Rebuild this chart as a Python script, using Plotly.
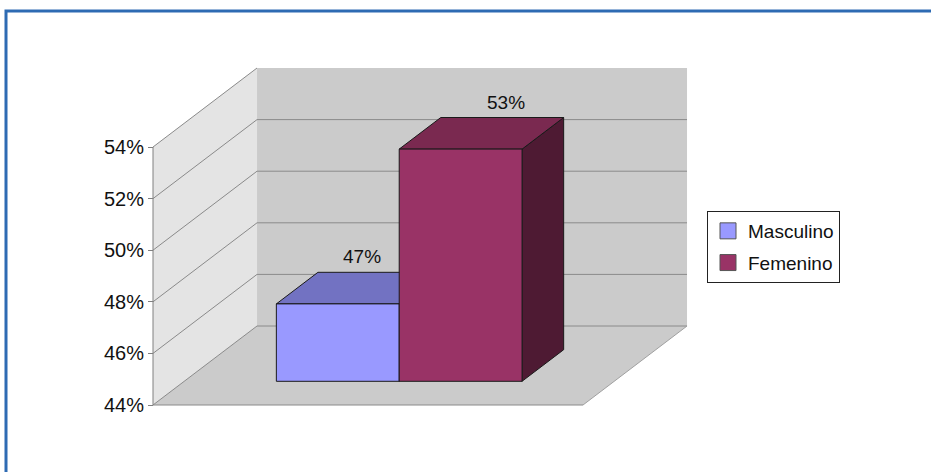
import plotly.graph_objects as go

# --- data -------------------------------------------------------------
categorias = ["Masculino", "Femenino"]
valores = [47, 53]                      # percent
etiquetas = ["47%", "53%"]
eje_ticks = [44, 46, 48, 50, 52, 54]
eje_texto = ["44%", "46%", "48%", "50%", "52%", "54%"]

# --- 3-D look (oblique projection of the depth axis) -----------------
Y_MIN, Y_MAX = 44, 54
DX, DY = 0.2419, 3.062          # shift of a point pushed to the back wall
GAP = 1.5                        # gap width, in bar widths
BAR_W = 1.0 / (len(categorias) + GAP)
Z_FRONT, Z_BACK = 0.3, 0.7       # bar depth inside the floor

frente = ["#9999FF", "#993366"]
tapa = ["#7272C2", "#7A2950"]
lado = ["#5B5B99", "#4E1A33"]
FONT = "Liberation Sans, Arial, sans-serif"


def proj(x, y, z):
    return x + z * DX, y + z * DY


def polygon(points, fill, line_color=None, width=0):
    xs, ys = zip(*[proj(*p) for p in points])
    xs, ys = list(xs) + [xs[0]], list(ys) + [ys[0]]
    return go.Scatter(
        x=xs, y=ys, mode="lines", fill="toself", fillcolor=fill,
        line=dict(color=line_color or fill, width=width),
        hoverinfo="skip", showlegend=False,
    )


def segment(p, q, color, width=1):
    (x0, y0), (x1, y1) = proj(*p), proj(*q)
    return go.Scatter(
        x=[x0, x1], y=[y0, y1], mode="lines",
        line=dict(color=color, width=width),
        hoverinfo="skip", showlegend=False,
    )


fig = go.Figure()

# walls and floor
fig.add_trace(polygon([(0, Y_MIN, 0), (0, Y_MAX, 0), (0, Y_MAX, 1), (0, Y_MIN, 1)], "#E4E4E4"))
fig.add_trace(polygon([(0, Y_MIN, 1), (1, Y_MIN, 1), (1, Y_MAX, 1), (0, Y_MAX, 1)], "#CBCBCB"))
fig.add_trace(polygon([(0, Y_MIN, 0), (1, Y_MIN, 0), (1, Y_MIN, 1), (0, Y_MIN, 1)], "#CBCBCB"))

# gridlines: diagonals on the side wall, horizontals on the back wall
for v in eje_ticks:
    fig.add_trace(segment((0, v, 0), (0, v, 1), "#8A8A8A"))
    if v < Y_MAX:
        fig.add_trace(segment((0, v, 1), (1, v, 1), "#8A8A8A"))

# floor edges and value axis line
fig.add_trace(segment((0, Y_MIN, 0), (1, Y_MIN, 0), "#8A8A8A"))
fig.add_trace(segment((1, Y_MIN, 0), (1, Y_MIN, 1), "#A0A0A0"))
fig.add_trace(segment((0, Y_MIN, 0), (0, Y_MAX, 0), "#808080"))

# bars (side, top, front), left to right
anotaciones = []
xshift = [-17, 4]
for i, (cat, val) in enumerate(zip(categorias, valores)):
    x0 = GAP / 2 * BAR_W + i * BAR_W
    x1 = x0 + BAR_W
    fig.add_trace(polygon([(x1, Y_MIN, Z_FRONT), (x1, Y_MIN, Z_BACK), (x1, val, Z_BACK), (x1, val, Z_FRONT)],
                          lado[i], "#1A1A1A", 1))
    fig.add_trace(polygon([(x0, val, Z_FRONT), (x1, val, Z_FRONT), (x1, val, Z_BACK), (x0, val, Z_BACK)],
                          tapa[i], "#1A1A1A", 1))
    fig.add_trace(polygon([(x0, Y_MIN, Z_FRONT), (x1, Y_MIN, Z_FRONT), (x1, val, Z_FRONT), (x0, val, Z_FRONT)],
                          frente[i], "#1A1A1A", 1))
    lx, ly = proj((x0 + x1) / 2, val, Z_BACK)
    anotaciones.append(dict(
        x=lx, y=ly, text=etiquetas[i], showarrow=False, yanchor="bottom",
        xshift=xshift[i], yshift=3, font=dict(family=FONT, size=19, color="#111111"),
    ))

# legend entries
for i, cat in enumerate(categorias):
    fig.add_trace(go.Scatter(
        x=[None], y=[None], mode="markers", name=cat, legendgroup=str(i),
        marker=dict(symbol="square", size=17, color=frente[i], line=dict(color="#555555", width=1)),
    ))

W, H = 931, 472
fig.update_layout(
    width=W, height=H,
    margin=dict(l=0, r=0, t=0, b=0),
    paper_bgcolor="white", plot_bgcolor="white",
    showlegend=True,
    legend=dict(
        x=707 / W, y=1 - 211 / H, xanchor="left", yanchor="top",
        bordercolor="#222222", borderwidth=1, bgcolor="white",
        font=dict(family=FONT, size=19, color="#111111"),
        tracegroupgap=4, itemclick=False, itemdoubleclick=False,
    ),
    xaxis=dict(
        domain=[0, 1], range=[-153 / 430, (W - 153) / 430],
        visible=False, fixedrange=True,
    ),
    yaxis=dict(
        domain=[0, 1], anchor="free", position=153 / W,
        range=[Y_MIN - (H - 405) / 25.8, Y_MIN + 405 / 25.8],
        tickvals=eje_ticks, ticktext=eje_texto,
        ticks="outside", ticklen=5, tickcolor="#808080",
        showgrid=False, zeroline=False, showline=False, fixedrange=True,
        tickfont=dict(family=FONT, size=20, color="#111111"),
    ),
    annotations=anotaciones,
    shapes=[dict(
        type="rect", xref="paper", yref="paper",
        x0=6 / W, x1=1.5, y0=-0.5, y1=1 - 11 / H,
        line=dict(color="#2E6BB3", width=3),
    )],
)

fig.write_html("out.html", config={"displayModeBar": False, "staticPlot": True})
